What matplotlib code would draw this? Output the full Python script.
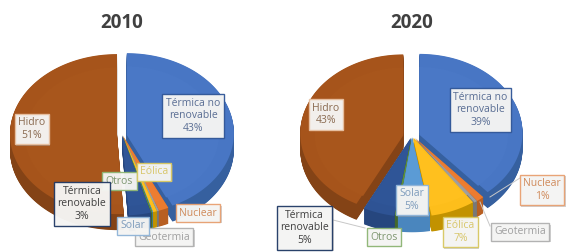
import numpy as np
import matplotlib
matplotlib.use("Agg")
import matplotlib.pyplot as plt
from matplotlib.patches import Polygon
import matplotlib.patheffects as pe

# ---- data
years = ["2010", "2020"]
categories = ["Térmica no\nrenovable", "Nuclear", "Geotermia", "Eólica", "Solar", "Otros", "Térmica\nrenovable", "Hidro"]
values_2010 = [43, 1.5, 0.3, 0.6, 0.1, 0.2, 3.3, 51]
values_2020 = [38.5, 1.2, 0.5, 7, 5, 0.4, 4.9, 42.5]
shown_2010 = ["43%", None, None, None, None, None, "3%", "51%"]
shown_2020 = ["39%", "1%", None, "7%", "5%", None, "5%", "43%"]

# ---- style
top_cols = ["#4A78C6", "#ED7D31", "#A0A0A0", "#FFC01E", "#5B9BD5", "#5E8F3E", "#2F5597", "#A8561C"]
rim_cols = ["#4876C4", "#EB7B2F", "#9E9E9E", "#FDBE1B", "#5999D3", "#5C8D3C", "#2E5394", "#A6541B"]
wall_cols = ["#36609F", "#B85F22", "#787878", "#C29200", "#4A86BE", "#44692B", "#26467E", "#844316"]
border_cols = ["#2F5597", "#E8A070", "#B0B0B0", "#D8C860", "#8FB4D8", "#8DB573", "#1F3864", "#E8C0A0"]
text_cols = ["#5A6E94", "#D08A5A", "#A0A0A0", "#D8C66A", "#7E9CBC", "#7E9670", "#404040", "#8A6A50"]

geom = {
    "2010": dict(c=(122, 134), a=107, b=80, d=16, ex=[5, 2, 2, 2, 2, 2, 2, 5]),
    "2020": dict(c=(412, 135), a=103, b=79, d=16, ex=[8, 5, 5, 4, 3, 3, 4, 9]),
}
label_pos = {
    "2010": [(193, 116), (198, 213), (164, 237), (154, 172), (133, 226), (119.5, 181), (82, 204), (32, 129)],
    "2020": [(480.5, 110), (542, 190), (520, 232), (460.5, 232), (412, 200), (384, 237), (304.5, 228), (326, 114.5)],
}
label_order = {
    "2010": [0, 7, 5, 3, 1, 2, 4, 6],
    "2020": [0, 7, 1, 2, 3, 4, 5, 6],
}
title_x = {"2010": 122, "2020": 412}
leaders = {
    "2010": [],
    "2020": [((490, 197), (520, 178)), ((480, 202), (490, 226)), ((333, 220), (365, 228))],
}

fig = plt.figure(figsize=(5.8, 2.52), dpi=100, facecolor="white")
ax = fig.add_axes([0, 0, 1, 1])
ax.set_xlim(0, 580)
ax.set_ylim(252, 0)
ax.axis("off")


def outline(cx, cy, a, b, t0, t1, scale=1.0):
    t = np.radians(np.linspace(t0, t1, max(3, int((t1 - t0) * 2))))
    xs = cx + a * scale * np.sin(t)
    ys = cy - b * scale * np.cos(t)
    return np.column_stack([np.r_[cx, xs], np.r_[cy, ys]])


def draw_pie(year, values, shown):
    g = geom[year]
    total = sum(values)
    bounds = np.r_[0, np.cumsum(values)] / total * 360
    slices = []
    for i in range(len(values)):
        t0, t1 = bounds[i], bounds[i + 1]
        mid = np.radians((t0 + t1) / 2)
        cx = g["c"][0] + g["ex"][i] * np.sin(mid)
        cy = g["c"][1] - g["ex"][i] * 0.75 * np.cos(mid)
        slices.append((-np.cos(mid), i, cx, cy, t0, t1))
    z = 2
    for _, i, cx, cy, t0, t1 in sorted(slices):
        pts = outline(cx, cy, g["a"], g["b"], t0, t1)
        for s in np.arange(g["d"], 0, -0.5):
            ax.add_patch(Polygon(pts + [0, s], closed=True, fc=wall_cols[i], ec="none", zorder=z))
        ax.add_patch(Polygon(pts, closed=True, fc=rim_cols[i], ec="none", zorder=z + 0.1))
        inner = outline(cx, cy + 2, g["a"], g["b"], t0, t1, 0.86)
        ax.add_patch(Polygon(inner, closed=True, fc=top_cols[i], ec="none", zorder=z + 0.2))
        z += 0.5

    ax.text(title_x[year], 23, year, ha="center", va="center", fontsize=13.5, fontweight="bold",
            family="Open Sans", color="#404040", zorder=20)

    for p, q in leaders[year]:
        ax.plot([p[0], q[0]], [p[1], q[1]], color="#C8C8C8", lw=0.7, zorder=15)

    for order, i in enumerate(label_order[year]):
        label = categories[i] if shown[i] is None else categories[i] + "\n" + shown[i]
        x, y = label_pos[year][i]
        t = ax.text(x, y, label, ha="center", va="center", fontsize=7.5, family="Open Sans",
                    color=text_cols[i], linespacing=1.22, zorder=30 + order,
                    bbox=dict(boxstyle="square,pad=0.32", fc="#F7F7F5", ec=border_cols[i], lw=1.0, alpha=0.95))
        t.get_bbox_patch().set_path_effects([
            pe.SimplePatchShadow(offset=(1, -1), shadow_rgbFace="#999999", alpha=0.45), pe.Normal()])


draw_pie("2010", values_2010, shown_2010)
draw_pie("2020", values_2020, shown_2020)
fig.savefig("out.png", dpi=100, facecolor="white")
